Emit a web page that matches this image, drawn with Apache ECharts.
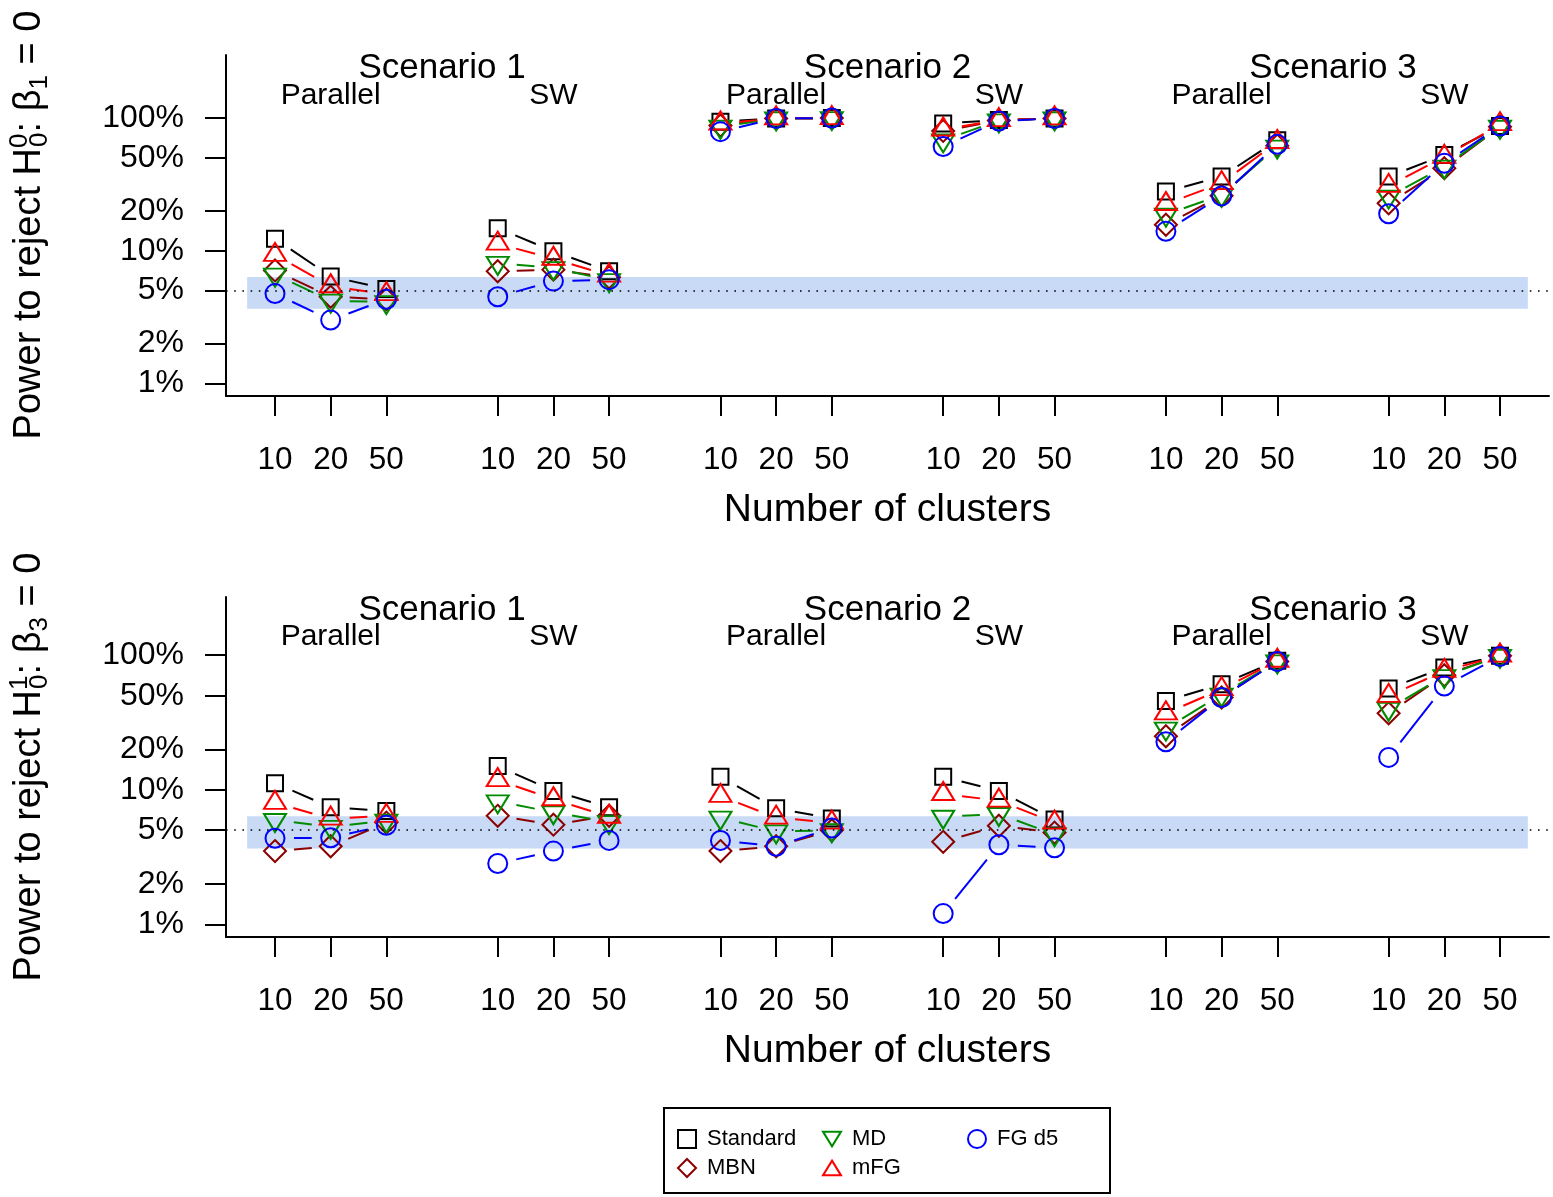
<!DOCTYPE html>
<html>
<head>
<meta charset="utf-8">
<title>Power to reject</title>
<script src="https://cdn.jsdelivr.net/npm/echarts@6/dist/echarts.min.js"></script>
<style>
  html, body { margin: 0; padding: 0; background: #fff; }
  #main { width: 1553px; height: 1197px; }
</style>
</head>
<body>
<div id="main"></div>
<script>
// categories
var clusters = [10, 20, 50];
var scenarios = ['Scenario 1', 'Scenario 2', 'Scenario 3'];
var designs = ['Parallel', 'SW'];
var methods = ['Standard', 'MBN', 'MD', 'mFG', 'FG d5'];
var yTicks = [1, 2, 5, 10, 20, 50, 100];
// Monte Carlo band around nominal 5% level
var bandLow = 3.65;
var bandHigh = 6.35;
var nominal = 5;

// power (%) for H0^0: beta1 = 0 ; order S1 Par, S1 SW, S2 Par, S2 SW, S3 Par, S3 SW ; 10/20/50 clusters
var b1Standard = [12.3, 6.4, 5.15, 14.8, 9.9, 7.0, 93.8, 99.5, 100, 91, 96.6, 99.5, 27.9, 36.2, 68, 36.2, 52.7, 87];
var b1MBN = [7.1, 4.5, 4.3, 7.0, 7.2, 6.3, 88, 99.5, 100, 80, 96, 99.5, 15.7, 26, 62, 22.8, 41.9, 86];
var b1MD = [6.6, 4.2, 4.1, 8.1, 7.4, 6.0, 86, 99.5, 100, 68, 96, 99.5, 18.7, 26.4, 61, 25.6, 43, 86];
var b1mFG = [9.3, 5.4, 4.7, 11.3, 8.7, 6.5, 91, 99.5, 100, 82, 96.6, 99.5, 22.5, 32.3, 66, 30.8, 51, 90];
var b1FGd5 = [4.75, 3.0, 4.3, 4.5, 5.9, 6.05, 79, 99.5, 100, 61, 95, 99.5, 14, 25.9, 63.4, 19, 45.6, 87];

// power (%) for H0^1: beta3 = 0
var b3Standard = [11.2, 7.4, 6.95, 15, 9.8, 7.4, 12.5, 7.3, 6.1, 12.5, 9.8, 6.0, 45.7, 60.9, 91, 56.5, 81, 99];
var b3MBN = [3.5, 3.8, 5.7, 6.4, 5.5, 6.4, 3.5, 3.8, 5.0, 4.1, 5.4, 4.8, 25, 48.5, 90, 37, 71, 99];
var b3MD = [5.96, 5.3, 5.9, 8.2, 6.8, 5.75, 6.2, 4.9, 5.0, 6.3, 6.6, 4.66, 28.5, 51, 90, 40, 70, 99];
var b3mFG = [8.0, 6.1, 6.4, 11.8, 8.5, 6.3, 9.0, 6.2, 5.7, 9.3, 8.3, 5.7, 37, 55.9, 91, 49.8, 76.4, 99.5];
var b3FGd5 = [4.36, 4.4, 5.45, 2.83, 3.5, 4.2, 4.2, 3.8, 5.2, 1.2, 3.9, 3.7, 22.7, 48.5, 90, 17.4, 59, 98];

var panels = [
  [b1Standard, b1MBN, b1MD, b1mFG, b1FGd5],
  [b3Standard, b3MBN, b3MD, b3mFG, b3FGd5]
];

// styles
var FONT = '"Liberation Sans", Arial, Helvetica, sans-serif';
var colors = ['#000000', '#8B0000', '#008B00', '#FF0000', '#0000FF'];
var symbols = ['rect', 'diamond', 'triangle', 'triangle', 'circle'];
var legendIcons = ['rect', 'diamond', 'path://M0,0L22,0L11,18Z', 'path://M11,0L22,18L0,18Z', 'circle'];
var symbolSizes = [16, [22, 22], [22, 18], [22, 18], 19];
var symbolRotates = [0, 0, 180, 0, 0];
var symbolOffsets = [[0, 0], [0, 0], [0, 3], [0, -3], [0, 0]];
var grids = [
  { left: 226, top: 55, width: 1323, height: 341 },
  { left: 226, top: 597, width: 1323, height: 340 }
];
var yRange = [[0.803, 299], [0.804, 271]];
var scenY = [68, 610];
var designY = [96, 637];

// x positions: 3 cluster sizes per design, one empty slot between designs
var xPositions = [];
for (var g = 0; g < 6; g++) {
  for (var i = 0; i < 3; i++) xPositions.push(4 * g + i + 1);
}

function segmentData(vals) {
  var out = [];
  for (var g = 0; g < 6; g++) {
    for (var i = 0; i < 2; i++) {
      var k = 3 * g + i;
      out.push([xPositions[k], vals[k], xPositions[k + 1], vals[k + 1]]);
    }
  }
  return out;
}

// R type="b": segments with gaps around the points
function segRender(color) {
  return function (params, api) {
    var a = api.coord([api.value(0), api.value(1)]);
    var b = api.coord([api.value(2), api.value(3)]);
    var dx = b[0] - a[0], dy = b[1] - a[1];
    var d = Math.sqrt(dx * dx + dy * dy);
    var gap = 19;
    if (d <= 2 * gap) return null;
    var ux = dx / d, uy = dy / d;
    return {
      type: 'line',
      shape: { x1: a[0] + ux * gap, y1: a[1] + uy * gap, x2: b[0] - ux * gap, y2: b[1] - uy * gap },
      style: { stroke: color, lineWidth: 2, lineCap: 'butt' }
    };
  };
}

var xAxes = [], yAxes = [], series = [];
[0, 1].forEach(function (p) {
  xAxes.push({
    type: 'value', gridIndex: p, min: 0.12, max: 23.88,
    axisLine: { show: true, onZero: false, lineStyle: { color: '#000', width: 2 } },
    axisTick: { show: true, customValues: xPositions, length: 20, lineStyle: { color: '#000', width: 2 } },
    axisLabel: {
      customValues: xPositions, margin: 48, fontSize: 31.5, color: '#000', fontFamily: FONT,
      formatter: function (v) { return String(clusters[Math.round(v - 1) % 4]); }
    },
    splitLine: { show: false },
    name: 'Number of clusters', nameLocation: 'middle', nameGap: 95,
    nameTextStyle: { fontSize: 39, color: '#000', fontFamily: FONT }
  });
  yAxes.push({
    type: 'log', logBase: 10, gridIndex: p, min: yRange[p][0], max: yRange[p][1],
    axisLine: { show: true, onZero: false, lineStyle: { color: '#000', width: 2 } },
    axisTick: { show: true, customValues: yTicks, length: 21, lineStyle: { color: '#000', width: 2 } },
    axisLabel: {
      customValues: yTicks, margin: 42, fontSize: 32, color: '#000', fontFamily: FONT,
      formatter: function (v) { return Math.round(v) + '%'; }
    },
    splitLine: { show: false },
    minorTick: { show: false }
  });

  // band and nominal level
  series.push({
    type: 'line', xAxisIndex: p, yAxisIndex: p, data: [], silent: true, z: 1,
    markArea: {
      silent: true,
      itemStyle: { color: '#C8DAF5', opacity: 1 },
      data: [[{ xAxis: 0.5, yAxis: bandLow }, { xAxis: 23.5, yAxis: bandHigh }]]
    },
    markLine: {
      silent: true, symbol: 'none', label: { show: false },
      lineStyle: { color: '#000', width: 1.6, type: [1.6, 6.6] },
      data: [{ yAxis: nominal }]
    }
  });

  methods.forEach(function (m, j) {
    var vals = panels[p][j];
    series.push({
      type: 'custom', name: m + ' lines', xAxisIndex: p, yAxisIndex: p, silent: true, z: 3,
      renderItem: segRender(colors[j]),
      encode: { x: [0, 2], y: [1, 3] },
      data: segmentData(vals)
    });
    series.push({
      type: 'scatter', name: m, xAxisIndex: p, yAxisIndex: p, silent: true, z: 4,
      symbol: symbols[j], symbolSize: symbolSizes[j], symbolRotate: symbolRotates[j],
      symbolOffset: symbolOffsets[j],
      itemStyle: { color: 'rgba(0,0,0,0)', borderColor: colors[j], borderWidth: 2, opacity: 1 },
      data: xPositions.map(function (x, k) { return [x, vals[k]]; })
    });
  });
});

function legendBlock(idx, left) {
  return {
    data: idx.map(function (j) {
      return {
        name: methods[j], icon: legendIcons[j],
        itemStyle: { color: 'rgba(0,0,0,0)', borderColor: colors[j], borderWidth: 2 }
      };
    }),
    orient: 'vertical', left: left, top: 1128, padding: 0,
    itemWidth: 18, itemHeight: 18, itemGap: 7, selectedMode: false,
    textStyle: { fontSize: 22, lineHeight: 18, color: '#000', fontFamily: FONT, padding: [0, 0, 0, 6] }
  };
}

var titleRich = {
  t: { fontSize: 38, lineHeight: 46, color: '#000', fontFamily: FONT, align: 'left' },
  sup: { fontSize: 26, verticalAlign: 'top', color: '#000', fontFamily: FONT, width: 1, align: 'left' },
  sub: { fontSize: 26, verticalAlign: 'bottom', color: '#000', fontFamily: FONT, align: 'left' }
};

var chart = echarts.init(document.getElementById('main'), null, { renderer: 'canvas' });
var option = {
  backgroundColor: '#fff',
  animation: false,
  grid: grids,
  xAxis: xAxes,
  yAxis: yAxes,
  legend: [
    legendBlock([0, 1], 677),
    legendBlock([2, 3], 822),
    legendBlock([4], 967)
  ],
  series: series
};
chart.setOption(option);

// scenario / design labels, placed over the axis positions
var texts = [];
[0, 1].forEach(function (p) {
  scenarios.forEach(function (s, si) {
    texts.push({
      type: 'text', x: chart.convertToPixel({ xAxisIndex: p }, 8 * si + 4), y: scenY[p],
      style: { text: s, fontSize: 35, fontFamily: FONT, fill: '#000', align: 'center', verticalAlign: 'middle' }
    });
    designs.forEach(function (d, di) {
      texts.push({
        type: 'text', x: chart.convertToPixel({ xAxisIndex: p }, 8 * si + 4 * di + 2), y: designY[p],
        style: { text: d, fontSize: 30, fontFamily: FONT, fill: '#000', align: 'center', verticalAlign: 'middle' }
      });
    });
  });
});
texts.push({
  type: 'text', x: 30, y: 225, rotation: Math.PI / 2,
  style: {
    text: '{t|Power to reject H}{sup|0}{sub|0}{t|: β}{sub|1}{t| = 0}', rich: titleRich,
    align: 'center', verticalAlign: 'middle'
  }
});
texts.push({
  type: 'text', x: 30, y: 767, rotation: Math.PI / 2,
  style: {
    text: '{t|Power to reject H}{sup|1}{sub|0}{t|: β}{sub|3}{t| = 0}', rich: titleRich,
    align: 'center', verticalAlign: 'middle'
  }
});
texts.push({
  type: 'rect', shape: { x: 664, y: 1108, width: 446, height: 85 },
  style: { fill: 'none', stroke: '#000', lineWidth: 2 }
});
chart.setOption({ graphic: texts });
</script>
</body>
</html>
